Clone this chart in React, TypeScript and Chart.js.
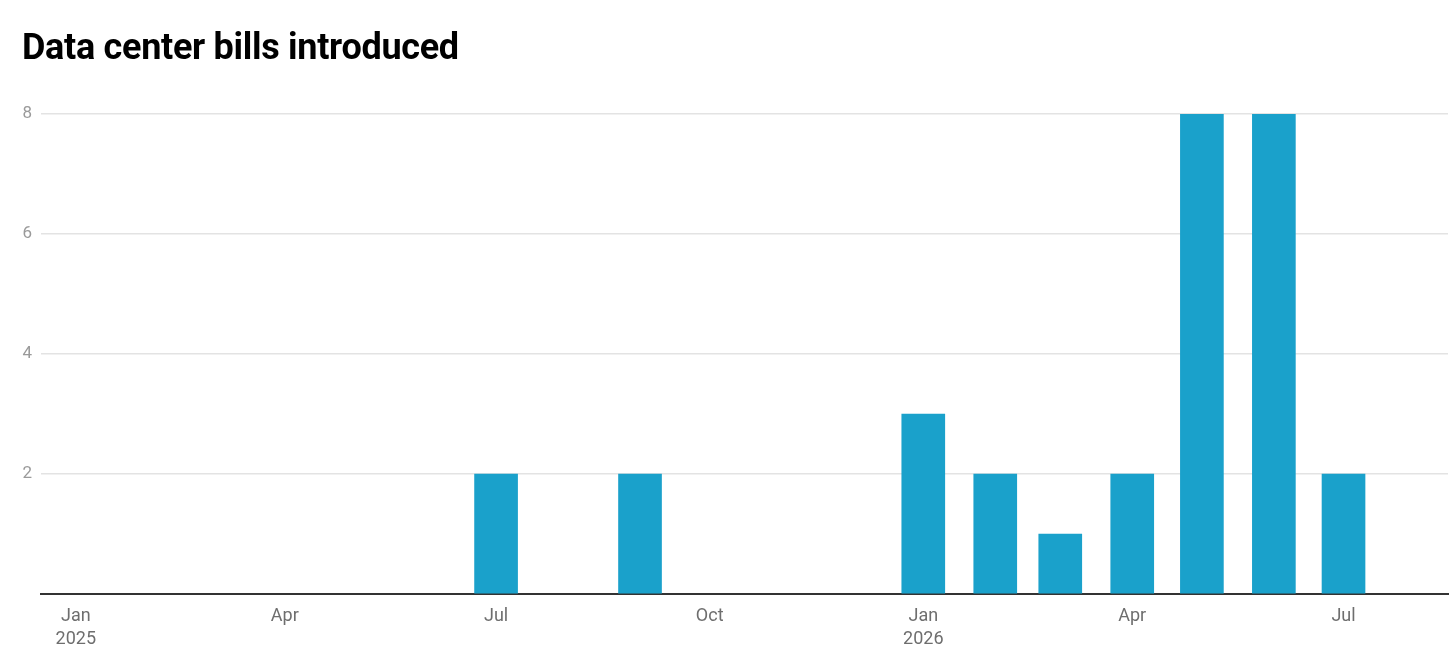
import { useEffect, useRef } from 'react'
import { Chart, registerables } from 'chart.js'

Chart.register(...registerables)

// Months with bills, and how many were introduced in each
const months = ['2025-07', '2025-09', '2026-01', '2026-02', '2026-03', '2026-04', '2026-05', '2026-06', '2026-07']
const bills = [2, 2, 3, 2, 1, 2, 8, 8, 2]

// Axis ticks
const xTickMonths = ['2025-01', '2025-04', '2025-07', '2025-10', '2026-01', '2026-04', '2026-07']
const yTicks = [2, 4, 6, 8]

const monthNames = ['Jan', 'Feb', 'Mar', 'Apr', 'May', 'Jun', 'Jul', 'Aug', 'Sep', 'Oct', 'Nov', 'Dec']
const DAY = 86400000
const ORIGIN = Date.UTC(2025, 0, 1)

// day offset from Jan 1 2025
const toDay = (ym: string) => {
  const [y, m] = ym.split('-').map(Number)
  return (Date.UTC(y, m - 1, 1) - ORIGIN) / DAY
}

export default function App() {
  const chartRef = useRef<HTMLCanvasElement>(null)
  const chartInstance = useRef<Chart | null>(null)

  useEffect(() => {
    document.body.style.margin = '0'
    if (!chartRef.current) return
    if (chartInstance.current) chartInstance.current.destroy()

    const tickDays = xTickMonths.map(toDay)

    chartInstance.current = new Chart(chartRef.current, {
      type: 'bar',
      data: {
        datasets: [{
          label: 'Bills',
          data: months.map((m, i) => ({ x: toDay(m), y: bills[i] })),
          backgroundColor: '#1aa1cb',
          barThickness: 43,
        }],
      },
      options: {
        animation: false,
        responsive: false,
        layout: { padding: { top: 114, right: 8, left: 0, bottom: 0 } },
        scales: {
          x: {
            type: 'linear',
            offset: false,
            min: -15,
            max: 591,
            grid: { display: false, drawTicks: false },
            border: { display: true, color: '#333', width: 2 },
            afterBuildTicks: (scale: any) => {
              scale.ticks = tickDays.map(v => ({ value: v }))
            },
            afterFit: (scale: any) => { scale.height = 76 },
            ticks: {
              autoSkip: false,
              maxRotation: 0,
              padding: 11,
              color: '#6e6e6e',
              font: { family: 'Roboto', size: 18, lineHeight: 1.28 },
              callback: (v: any) => {
                const d = new Date(ORIGIN + Number(v) * DAY)
                const name = monthNames[d.getUTCMonth()]
                return d.getUTCMonth() === 0 ? [name, String(d.getUTCFullYear())] : name
              },
            },
          },
          y: {
            min: 0,
            max: 8,
            grid: { color: '#e3e3e3', drawTicks: false, lineWidth: 1.5 },
            border: { display: false },
            afterBuildTicks: (scale: any) => {
              scale.ticks = [0, ...yTicks].map(v => ({ value: v }))
            },
            afterFit: (scale: any) => { scale.width = 41 },
            ticks: {
              padding: 9,
              color: '#9a9a9a',
              font: { family: 'Roboto', size: 17 },
              callback: (v: any) => (v === 0 ? '' : String(v)),
            },
          },
        },
        plugins: {
          legend: { display: false },
          tooltip: { enabled: false },
        },
      },
    })

    return () => {
      if (chartInstance.current) {
        chartInstance.current.destroy()
        chartInstance.current = null
      }
    }
  }, [])

  return (
    <div style={{ position: 'relative', width: 1456, height: 670, background: '#fff' }}>
      <div
        style={{
          position: 'absolute',
          left: 22,
          top: 25,
          fontFamily: 'Roboto',
          fontWeight: 700,
          fontSize: 36,
          lineHeight: '44px',
          color: '#000',
          letterSpacing: -0.3,
        }}
      >
        Data center bills introduced
      </div>
      <canvas ref={chartRef} width={1456} height={670} />
    </div>
  )
}
